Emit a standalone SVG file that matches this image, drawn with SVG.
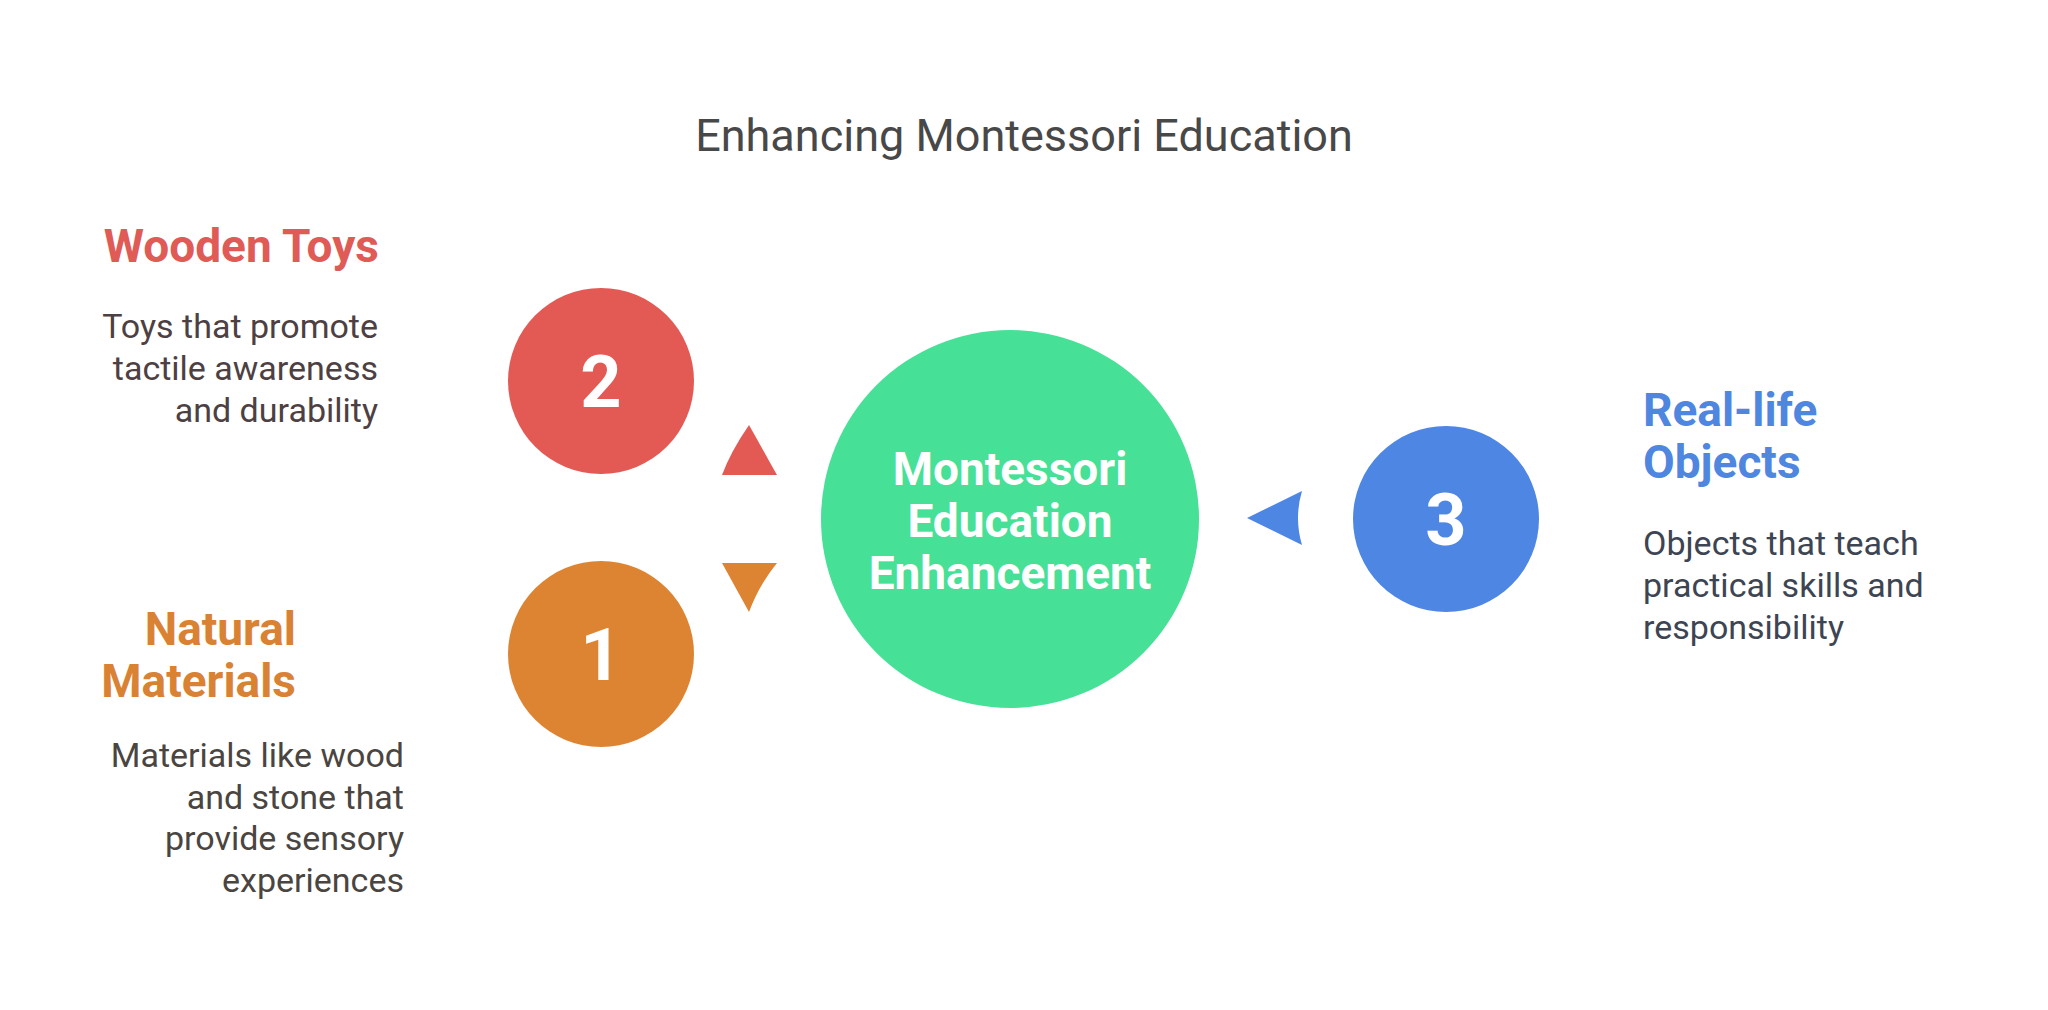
<svg xmlns="http://www.w3.org/2000/svg" width="2048" height="1010" viewBox="0 0 2048 1010">
<style>
.t{font-family:Roboto,"Liberation Sans",sans-serif}
.title{font-size:45px;fill:#484848}
.h{font-size:46px;font-weight:700}
.d{font-size:34px}
.num{font-size:72px;font-weight:700;fill:#fff;text-anchor:middle}
.c{font-size:46px;font-weight:700;fill:#fff;text-anchor:middle}
</style>
<rect width="2048" height="1010" fill="#fff"/>
<text class="t title" x="1024" y="151" text-anchor="middle">Enhancing Montessori Education</text>
<g id="connectors">
<path d="M749 425 Q731 451 722 475 L777 475 Z" fill="#E35A55"/>
<path d="M722 563 L777 563 Q759 585 749 612 Z" fill="#DD8432"/>
<path d="M1247 518 L1302 491 Q1294 518 1302 545 Z" fill="#4E86E3"/>
</g>
<g id="center">
<circle cx="1010" cy="519" r="189" fill="#46E096"/>
<text class="t c" x="1010" y="485">Montessori</text>
<text class="t c" x="1010" y="537">Education</text>
<text class="t c" x="1010" y="589">Enhancement</text>
</g>
<g id="node2">
<circle cx="601" cy="381" r="93" fill="#E35A55"/>
<text class="t num" x="601" y="407">2</text>
<text class="t h" x="379" y="262" text-anchor="end" fill="#E05A56">Wooden Toys</text>
<text class="t d" text-anchor="end" fill="#4D4042"><tspan x="378" y="338">Toys that promote</tspan><tspan x="378" y="380">tactile awareness</tspan><tspan x="378" y="422">and durability</tspan></text>
</g>
<g id="node1">
<circle cx="601" cy="654" r="93" fill="#DD8432"/>
<text class="t num" x="601" y="680">1</text>
<text class="t h" text-anchor="end" fill="#DA8234"><tspan x="296" y="645">Natural</tspan><tspan x="296" y="697">Materials</tspan></text>
<text class="t d" text-anchor="end" fill="#4A4540"><tspan x="404" y="767">Materials like wood</tspan><tspan x="404" y="809">and stone that</tspan><tspan x="404" y="850">provide sensory</tspan><tspan x="404" y="892">experiences</tspan></text>
</g>
<g id="node3">
<circle cx="1446" cy="519" r="93" fill="#4E86E3"/>
<text class="t num" x="1446" y="545">3</text>
<text class="t h" fill="#4E86E0"><tspan x="1643" y="426">Real-life</tspan><tspan x="1643" y="478">Objects</tspan></text>
<text class="t d" fill="#3D4452"><tspan x="1643" y="555">Objects that teach</tspan><tspan x="1643" y="597">practical skills and</tspan><tspan x="1643" y="639">responsibility</tspan></text>
</g>
</svg>
